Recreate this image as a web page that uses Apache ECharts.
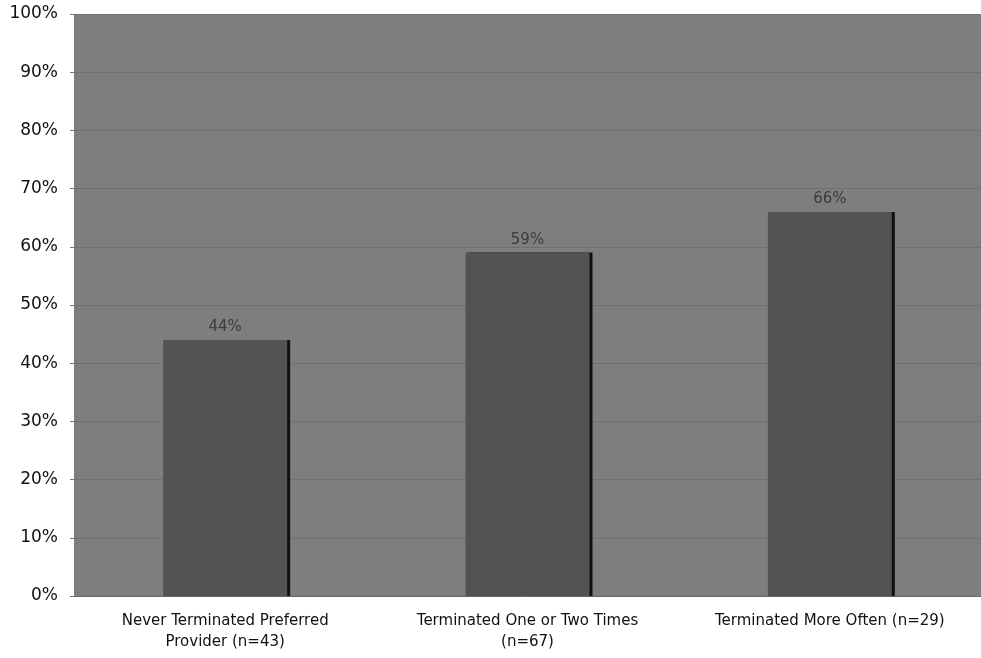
<!DOCTYPE html>
<html>
<head>
<meta charset="utf-8">
<script src="https://cdn.jsdelivr.net/npm/echarts@6/dist/echarts.min.js"></script>
<style>
  html, body { margin: 0; padding: 0; background: #fff; }
  #chart { width: 981px; height: 658px; }
</style>
</head>
<body>
<div id="chart"></div>
<script>
// 数据
var categories = [
    'Never Terminated Preferred\nProvider (n=43)',
    'Terminated One or Two Times\n(n=67)',
    'Terminated More Often (n=29)'
];
var values = [44, 59, 66];
var yTicks = [0, 10, 20, 30, 40, 50, 60, 70, 80, 90, 100];

(function () {
    var myChart = echarts.init(document.getElementById('chart'));
    var font = '"DejaVu Sans", Verdana, sans-serif';
    var option = {
        animation: false,
        grid: {
            left: 74,
            right: 0,
            top: 14,
            bottom: 62,
            show: true,
            backgroundColor: '#7e7e7e',
            borderWidth: 0
        },
        xAxis: {
            type: 'category',
            data: categories,
            axisTick: { show: false },
            axisLine: { lineStyle: { color: '#666', width: 1 } },
            axisLabel: {
                color: '#111',
                fontFamily: font,
                fontSize: 15,
                margin: 15,
                lineHeight: 21,
                interval: 0
            }
        },
        yAxis: {
            type: 'value',
            min: yTicks[0],
            max: yTicks[yTicks.length - 1],
            interval: 10,
            axisLine: { show: false },
            axisTick: { show: true, length: 4, lineStyle: { color: '#777' } },
            // 分隔线
            splitLine: { lineStyle: { color: 'rgba(60,60,60,0.2)' } },
            axisLabel: {
                color: '#111',
                fontFamily: font,
                fontSize: 17,
                margin: 16,
                formatter: '{value}%'
            }
        },
        series: [
            {
                type: 'bar',
                data: values,
                barWidth: '41%',
                itemStyle: {
                    color: '#535353',
                    shadowColor: '#111',
                    shadowOffsetX: 3,
                    shadowBlur: 0
                },
                label: {
                    show: true,
                    position: 'top',
                    distance: 5,
                    color: '#3c3c3c',
                    fontFamily: font,
                    fontSize: 15,
                    formatter: '{c}%'
                }
            }
        ]
    };
    myChart.setOption(option);
})();
</script>
</body>
</html>
